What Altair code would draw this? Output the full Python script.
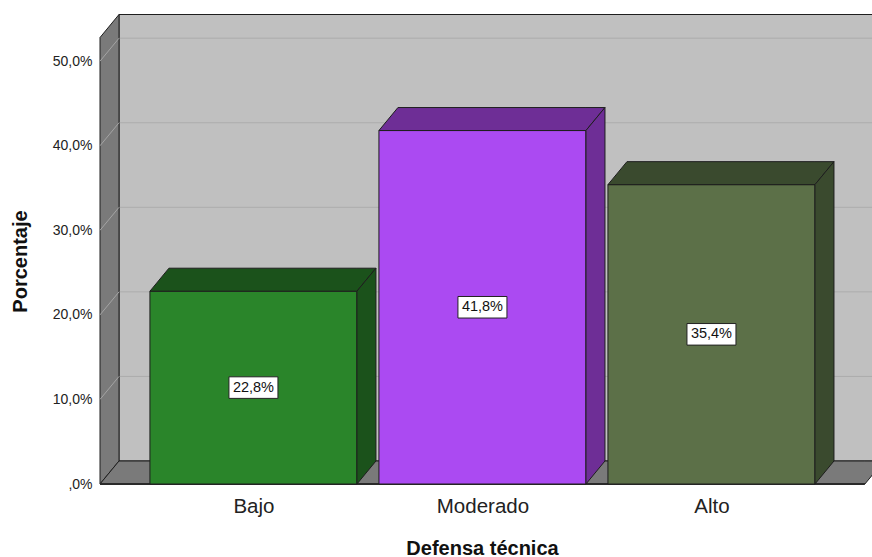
import altair as alt
import pandas as pd

# ---------------- data ----------------
categories = ["Bajo", "Moderado", "Alto"]
percentages = [22.8, 41.8, 35.4]
value_labels = ["22,8%", "41,8%", "35,4%"]
y_ticks = [0, 10, 20, 30, 40, 50]
y_tick_labels = [",0%", "10,0%", "20,0%", "30,0%", "40,0%", "50,0%"]

# ---------------- style ----------------
front_colors = ["#2a852a", "#ab4af2", "#5c7048"]
shade_colors = ["#1b521b", "#6e2e96", "#3a4a2e"]
WALL_BACK = "#c0c0c0"
WALL_SIDE = "#7a7a7a"
EDGE = "#1e1e1e"
FONT = "Liberation Sans"

# 3D geometry expressed in data units (category units / percent)
BAR_W = 0.904
OUTER = 0.218
DX = 0.083
DY = 2.72
WALL_TOP = 52.8
X_LEFT = -BAR_W / 2 - OUTER
X_RIGHT = len(categories) - 1 + BAR_W / 2 + OUTER
X_DOMAIN = [X_LEFT, 2.701]
Y_DOMAIN = [0, 57]

xscale = alt.Scale(domain=X_DOMAIN, nice=False, zero=False)
yscale = alt.Scale(domain=Y_DOMAIN, nice=False, zero=False)

cat_idx = list(range(len(categories)))
x_label_expr = "[" + ",".join("'%s'" % c for c in categories) + "][round(datum.value)]"
y_label_expr = "[" + ",".join("'%s'" % t for t in y_tick_labels) + "][round(datum.value/10)]"

xaxis = alt.Axis(
    values=cat_idx, labelExpr=x_label_expr, title="Defensa técnica",
    domain=False, ticks=False, tickSize=0, grid=False,
    labelFont=FONT, labelFontSize=20.5, labelColor="#222222",
    labelBaseline="alphabetic", labelPadding=28,
    titleFont=FONT, titleFontSize=20, titleFontWeight="bold", titleColor="#111111",
    titleX=382, titleY=64, titleAlign="center", titleBaseline="middle",
)
yaxis = alt.Axis(
    values=y_ticks, labelExpr=y_label_expr, title="Porcentaje",
    domain=False, ticks=False, tickSize=0, grid=False,
    labelFont=FONT, labelFontSize=14, labelColor="#222222", labelPadding=8,
    titleFont=FONT, titleFontSize=20, titleFontWeight="bold", titleColor="#111111",
    titleX=-80, titleY=259, titleAngle=-90, titleAlign="center", titleBaseline="middle",
)


def X(f):
    return alt.X(f, type="quantitative", scale=xscale, axis=xaxis)


def Y(f):
    return alt.Y(f, type="quantitative", scale=yscale, axis=yaxis, stack=None)


# back wall
back_df = pd.DataFrame({"x": [X_LEFT + DX], "x2": [X_RIGHT + DX], "y": [DY], "y2": [WALL_TOP + DY]})
back = alt.Chart(back_df).mark_rect(fill=WALL_BACK, stroke=EDGE, strokeWidth=1, clip=True).encode(
    x=X("x"), x2="x2", y=Y("y"), y2="y2")

# grid on back wall
grid_vals = [v for v in y_ticks if v > 0]
gb_df = pd.DataFrame({"x": [X_LEFT + DX] * len(grid_vals), "x2": [X_DOMAIN[1]] * len(grid_vals),
                      "y": [v + DY for v in grid_vals]})
grid_back = alt.Chart(gb_df).mark_rule(color="#acacac", strokeWidth=1, clip=True).encode(
    x=X("x"), x2="x2", y=Y("y"))

# left side wall
side_df = pd.DataFrame({"x": [X_LEFT, X_LEFT + DX], "lo": [0, DY], "hi": [WALL_TOP, WALL_TOP + DY]})
side_wall = alt.Chart(side_df).mark_area(fill=WALL_SIDE, stroke=EDGE, strokeWidth=1, opacity=1).encode(
    x=X("x"), y=Y("lo"), y2="hi")

# grid on side wall
gs_df = pd.DataFrame({"x": [X_LEFT] * len(grid_vals), "x2": [X_LEFT + DX] * len(grid_vals),
                      "y": grid_vals, "y2": [v + DY for v in grid_vals]})
grid_side = alt.Chart(gs_df).mark_rule(color="#a4a4a4", strokeWidth=1).encode(
    x=X("x"), x2="x2", y=Y("y"), y2="y2")

# floor
floor_df = pd.DataFrame({"x": [X_LEFT, X_LEFT + DX, X_RIGHT, X_RIGHT + DX],
                         "lo": [0, 0, 0, DY], "hi": [0, DY, DY, DY]})
floor = alt.Chart(floor_df).mark_area(fill=WALL_SIDE, stroke=EDGE, strokeWidth=1, opacity=1, clip=True).encode(
    x=X("x"), y=Y("lo"), y2="hi")

floor_line_df = pd.DataFrame({"x": [X_LEFT], "x2": [X_RIGHT], "y": [0]})
floor_line = alt.Chart(floor_line_df).mark_rule(color="#2a2a2a", strokeWidth=2).encode(
    x=X("x"), x2="x2", y=Y("y"))

# bars
bars_df = pd.DataFrame({
    "cat": categories, "i": cat_idx, "v": percentages, "lab": value_labels,
    "x0": [i - BAR_W / 2 for i in cat_idx], "x1": [i + BAR_W / 2 for i in cat_idx],
    "zero": [0] * len(categories), "mid": [v / 2 for v in percentages],
    "col": front_colors,
})
front = alt.Chart(bars_df).mark_rect(stroke=EDGE, strokeWidth=1, opacity=1).encode(
    x=X("x0"), x2="x1", y=Y("zero"), y2="v", fill=alt.Fill("col:N", scale=None))

top_rows, side_rows = [], []
for i, (c, v) in enumerate(zip(categories, percentages)):
    x0, x1 = i - BAR_W / 2, i + BAR_W / 2
    for xx, lo, hi in [(x0, v, v), (x0 + DX, v, v + DY), (x1, v, v + DY), (x1 + DX, v + DY, v + DY)]:
        top_rows.append({"face": c, "x": xx, "lo": lo, "hi": hi, "col": shade_colors[i]})
    for xx, lo, hi in [(x1, 0, v), (x1 + DX, DY, v + DY)]:
        side_rows.append({"face": c, "x": xx, "lo": lo, "hi": hi, "col": shade_colors[i]})

top = alt.Chart(pd.DataFrame(top_rows)).mark_area(stroke=EDGE, strokeWidth=1, opacity=1).encode(
    x=X("x"), y=Y("lo"), y2="hi", fill=alt.Fill("col:N", scale=None), detail="face:N")
side = alt.Chart(pd.DataFrame(side_rows)).mark_area(stroke=EDGE, strokeWidth=1, opacity=1).encode(
    x=X("x"), y=Y("lo"), y2="hi", fill=alt.Fill("col:N", scale=None), detail="face:N")

box = alt.Chart(bars_df).mark_point(
    shape="M-1,-0.44L1,-0.44L1,0.44L-1,0.44Z", size=2401, filled=True,
    fill="white", stroke="#222222", strokeWidth=1, opacity=1, fillOpacity=1, strokeOpacity=1,
).encode(x=X("i"), y=Y("mid"))

labels = alt.Chart(bars_df).mark_text(
    font=FONT, fontSize=14.5, color="#111111", align="center", baseline="middle",
).encode(x=X("i"), y=Y("mid"), text="lab:N")

chart = alt.layer(
    back, grid_back, side_wall, grid_side, floor, floor_line, front, top, side, box, labels
).properties(
    width=772, height=482,
    padding={"left": 100, "top": 2, "right": 0, "bottom": 73},
    autosize=alt.AutoSizeParams(type="none"),
    background="white",
).configure_view(strokeWidth=0)

chart.save("out.html", embed_options={"renderer": "svg", "actions": False})
